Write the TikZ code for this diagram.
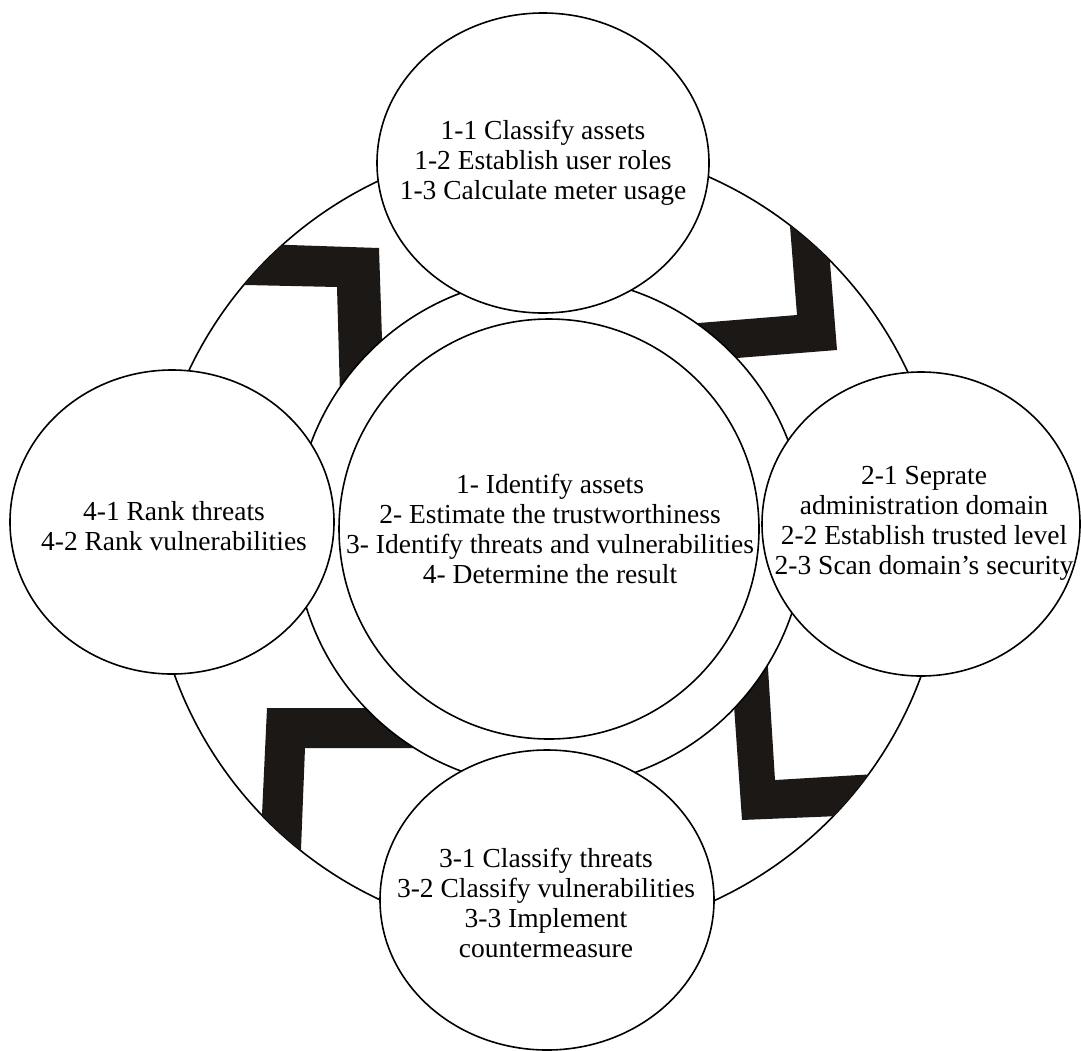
\documentclass[tikz,border=0pt]{standalone}
\usepackage{fontspec}
\setmainfont{Liberation Serif}
\definecolor{chevfill}{RGB}{28,24,22}
\begin{document}
\begin{tikzpicture}[x=0.5pt,y=-0.5pt,line width=0.8pt,
  bubble/.style={draw=black,fill=white},
  chevron/.style={fill=chevfill},
  steptext/.style={align=center,inner sep=0pt,font=\fontsize{13.75}{15}\selectfont}]
\useasboundingbox (0,0) rectangle (1081,1050);

% outer cycle ring
\draw (548,540) circle [radius=198.5pt];

% four chevrons, cut to the band between the outer ring and the middle ring
\begin{scope}
  \clip (548,540) circle [radius=198.5pt];
  \fill[chevron] (200,242) -- (379,248) -- (385,430) -- (341,430) -- (337,287) -- (200,284) -- cycle;
  \fill[chevron] (821,150) -- (837,350) -- (637,366) -- (637,328) -- (797,315) -- (784,150) -- cycle;
  \fill[chevron] (728,620) -- (742,820) -- (960,811) -- (960,769) -- (775,780) -- (765,620) -- cycle;
  \fill[chevron] (267,708) -- (480,708) -- (480,748) -- (305,748) -- (299,900) -- (258,900) -- cycle;
\end{scope}

% middle ring and central circle
\draw[bubble] (550,532) circle [radius=127.5pt];
\draw[bubble] (549,529) circle [radius=105pt];

% the four phase circles
\draw[bubble] (543,163) ellipse [x radius=83pt, y radius=75pt];
\draw[bubble] (921,524) ellipse [x radius=79.5pt, y radius=76pt];
\draw[bubble] (547,900) ellipse [x radius=83.5pt, y radius=75pt];
\draw[bubble] (172,522) ellipse [x radius=81pt, y radius=76pt];

% texts
\node[steptext] (core) at (550,529) {1- Identify assets\\2- Estimate the trustworthiness\\3- Identify threats and vulnerabilities\\4- Determine the result};
\node[steptext] (phase1) at (543,163) {1-1 Classify assets\\1-2 Establish user roles\\1-3 Calculate meter usage};
\node[steptext] (phase2) at (924,523) {2-1 Seprate\\administration domain\\2-2 Establish trusted level\\2-3 Scan domain's security};
\node[steptext] (phase3) at (546,903) {3-1 Classify threats\\3-2 Classify vulnerabilities\\3-3 Implement\\countermeasure};
\node[steptext] (phase4) at (174,526) {4-1 Rank threats\\4-2 Rank vulnerabilities};
\end{tikzpicture}
\end{document}
